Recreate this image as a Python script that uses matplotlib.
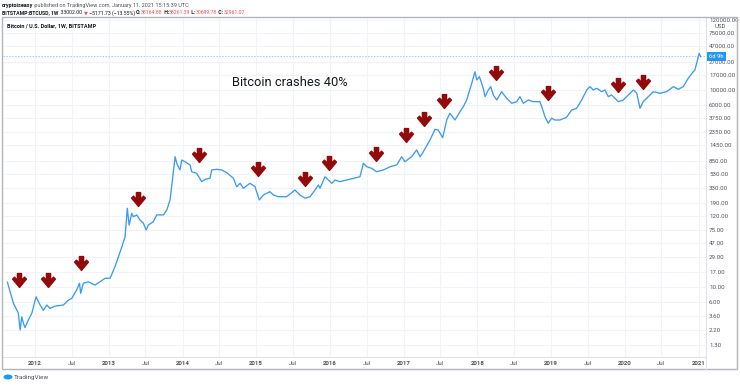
import pandas as pd
import matplotlib
matplotlib.use('Agg')
import matplotlib.pyplot as plt
from matplotlib.path import Path
from matplotlib.patches import Rectangle, Ellipse
from matplotlib.lines import Line2D
from matplotlib.ticker import NullLocator

plt.rcParams['font.family'] = ['Roboto', 'DejaVu Sans']

# weekly closes (BITSTAMP:BTCUSD, 1W)
dates = [
    '2011-08-17', '2011-09-16', '2011-09-24', '2011-10-10', '2011-10-19', '2011-10-27',
    '2011-11-04', '2011-11-12', '2011-11-28', '2011-12-16', '2012-01-06', '2012-01-17',
    '2012-01-26', '2012-02-11', '2012-02-28', '2012-03-15', '2012-04-09', '2012-05-20',
    '2012-06-14', '2012-07-01', '2012-07-25', '2012-08-08', '2012-08-14', '2012-08-27',
    '2012-09-21', '2012-10-24', '2012-11-18', '2012-12-13', '2013-01-07', '2013-01-31',
    '2013-03-06', '2013-03-22', '2013-04-02', '2013-04-11', '2013-04-24', '2013-05-02',
    '2013-05-19', '2013-06-04', '2013-06-21', '2013-07-04', '2013-07-15', '2013-08-09',
    '2013-08-26', '2013-09-28', '2013-10-15', '2013-10-31', '2013-11-25', '2013-12-03',
    '2013-12-19', '2013-12-28', '2014-01-13', '2014-02-07', '2014-02-15', '2014-03-12',
    '2014-04-06', '2014-04-22', '2014-05-17', '2014-05-25', '2014-06-19', '2014-07-14',
    '2014-08-08', '2014-09-10', '2014-09-26', '2014-10-13', '2014-10-29', '2014-12-01',
    '2014-12-26', '2015-01-16', '2015-02-05', '2015-03-10', '2015-03-27', '2015-04-21',
    '2015-06-01', '2015-07-12', '2015-08-06', '2015-08-31', '2015-09-25', '2015-10-19',
    '2015-11-05', '2015-11-13', '2015-12-08', '2016-01-10', '2016-01-26', '2016-02-20',
    '2016-03-24', '2016-04-26', '2016-05-29', '2016-06-15', '2016-07-02', '2016-07-26',
    '2016-08-20', '2016-09-22', '2016-10-25', '2016-11-27', '2016-12-22', '2017-01-07',
    '2017-02-09', '2017-03-06', '2017-03-23', '2017-04-08', '2017-05-11', '2017-06-05',
    '2017-06-21', '2017-07-13', '2017-08-02', '2017-08-18', '2017-09-12', '2017-10-07',
    '2017-10-23', '2017-11-09', '2017-12-04', '2017-12-20', '2017-12-29', '2018-01-11',
    '2018-01-30', '2018-02-08', '2018-02-24', '2018-03-08', '2018-03-21', '2018-04-07',
    '2018-05-01', '2018-05-26', '2018-06-20', '2018-07-15', '2018-07-31', '2018-08-17',
    '2018-09-10', '2018-10-05', '2018-11-07', '2018-11-16', '2018-12-02', '2018-12-18',
    '2019-01-04', '2019-01-20', '2019-02-14', '2019-03-19', '2019-04-13', '2019-05-08',
    '2019-06-02', '2019-06-27', '2019-07-13', '2019-07-29', '2019-08-15', '2019-09-09',
    '2019-09-25', '2019-10-12', '2019-10-28', '2019-11-14', '2019-11-30', '2019-12-25',
    '2020-01-19', '2020-02-13', '2020-03-01', '2020-03-17', '2020-04-02', '2020-04-27',
    '2020-05-22', '2020-06-24', '2020-07-27', '2020-08-29', '2020-09-23', '2020-10-17',
    '2020-11-11', '2020-12-06', '2020-12-14', '2021-01-04', '2021-01-11',
]
close = [
    11.8, 5.6, 5.0, 4.0, 2.2, 3.5,
    2.8, 2.4, 3.1, 4.0, 7.1, 6.0,
    5.3, 4.4, 5.3, 4.7, 5.1, 5.3,
    6.3, 6.7, 9.0, 11.4, 8.0, 11.4,
    12.0, 10.7, 12.0, 13.6, 13.6, 20.4,
    41, 58.5, 159, 88, 133, 118,
    126, 105, 94, 74, 88, 99,
    126, 126, 150, 213, 975, 773,
    611, 867, 818, 728, 575, 544,
    405, 440, 456, 611, 625, 611,
    555, 456, 339, 383, 321, 383,
    339, 213, 253, 285, 253, 239,
    239, 302, 253, 226, 239, 302,
    360, 321, 482, 383, 429, 405,
    429, 456, 482, 773, 685, 648,
    575, 611, 685, 728, 975, 818,
    975, 1233, 975, 1161, 1754, 2550,
    2490, 1900, 3540, 4480, 3540, 4740,
    5650, 7150, 12860, 19350, 14440, 16230,
    10790, 8040, 10170, 11430, 8530, 7150,
    9580, 7590, 6370, 6740, 8040, 6370,
    7150, 6740, 6740, 5650, 3980, 3155,
    3760, 3540, 3540, 3890, 5030, 5340,
    7150, 10170, 11430, 10170, 10790, 9580,
    10170, 8040, 8530, 7590, 6740, 7150,
    8530, 10170, 9050, 5340, 6740, 8040,
    9580, 9050, 9580, 11430, 10420, 11430,
    15340, 19350, 20530, 36900, 33002,
]

# "crash" markers drawn on the chart
arrow_dates = ['2011-10-14', '2012-03-07', '2012-08-16', '2013-05-24', '2014-03-23',
               '2015-01-11', '2015-08-31', '2015-12-28', '2016-08-17', '2017-01-11',
               '2017-04-11', '2017-07-18', '2018-04-03', '2018-12-18', '2019-11-30',
               '2020-04-02']
arrow_prices = [12.8, 12.8, 23, 218, 1017, 625, 440, 789, 1060, 2090, 3670, 6980,
                18670, 9240, 12100, 13320]

price_ticks = [1.3, 2.2, 3.6, 6, 10, 17, 29, 47, 75, 120, 190, 330, 530, 850, 1450,
               2350, 3750, 6000, 10000, 17000, 27000, 47000, 75000, 120000]
years = list(range(2012, 2022))
last_price = 33002.00
countdown = '6d 9h'

W, H = 740, 385
fig = plt.figure(figsize=(W / 100, H / 100), dpi=100)


def fx(px):
    return px / W


def fy(py):
    return 1 - py / H


ax = fig.add_axes([fx(3), fy(357), fx(706) - fx(3), fy(18) - fy(357)])
ax.set_yscale('log')
ax.set_ylim(0.853, 127700)
ax.set_xlim(pd.Timestamp('2011-07-26'), pd.Timestamp('2021-02-07'))

grid_c = '#f0f3fa'
xt, xl = [], []
for y in years:
    xt.append(pd.Timestamp(f'{y}-01-01'))
    xl.append(str(y))
    if y < 2021:
        xt.append(pd.Timestamp(f'{y}-07-01'))
        xl.append('Jul')
ax.set_xticks(xt)
ax.set_xticklabels(xl)
for lab in ax.get_xticklabels():
    if lab.get_text() != 'Jul':
        lab.set_fontweight('bold')

ax.set_yticks(price_ticks)
ax.set_yticklabels([f'{v:.2f}' for v in price_ticks])
ax.yaxis.set_minor_locator(NullLocator())
ax.xaxis.set_minor_locator(NullLocator())
ax.yaxis.tick_right()
ax.tick_params(axis='both', length=0, labelsize=4.4, labelcolor='#50535e')
ax.tick_params(axis='y', pad=2.2)
ax.tick_params(axis='x', pad=2.6)
ax.grid(True, color=grid_c, lw=0.8)
ax.set_axisbelow(True)
for s in ['left', 'top']:
    ax.spines[s].set_visible(False)
for s in ['right', 'bottom']:
    ax.spines[s].set_color('#e0e3eb')
    ax.spines[s].set_linewidth(0.8)

d = pd.to_datetime(dates)
ax.plot(d, close, color='#3a9bf2', lw=0.95, zorder=3)

# down-arrow marker
arrow = Path([(-0.15, 0.5), (0.15, 0.5), (0.15, 0.02), (0.36, 0.24), (0.5, 0.1),
              (0.0, -0.5), (-0.5, 0.1), (-0.36, 0.24), (-0.15, 0.02), (-0.15, 0.5)],
             [Path.MOVETO] + [Path.LINETO] * 8 + [Path.CLOSEPOLY])
ax.plot(pd.to_datetime(arrow_dates), arrow_prices, ls='none', marker=arrow,
        markersize=10, color='#920a0a', mec='#920a0a', zorder=4)

ax.text(0.408, 0.811, 'Bitcoin crashes 40%', transform=ax.transAxes,
        ha='center', va='center', fontsize=9.3, color='#131722')

# last price line and label
ax.axhline(last_price, color='#9fcbf5', lw=0.7, ls=(0, (1.5, 1.5)), zorder=2)
ax.annotate(countdown, xy=(1.0, last_price), xycoords=('axes fraction', 'data'),
            xytext=(2.5, 0), textcoords='offset points', ha='left', va='center',
            fontsize=4.2, color='white', zorder=10, annotation_clip=False,
            bbox=dict(boxstyle='square,pad=0.35', fc='#2196f3', ec='none'))

fig.text(fx(720), fy(26), 'USD', ha='center', va='center', fontsize=4.4,
         color='#50535e', bbox=dict(boxstyle='square,pad=0.2', fc='white', ec='none'))

# panel frame
fig.add_artist(Rectangle((fx(2), fy(369)), fx(737) - fx(2), fy(17) - fy(369),
                         transform=fig.transFigure, fill=False, ec='#b2b5be', lw=1.0))
fig.add_artist(Line2D([fx(706), fx(706)], [fy(357), fy(369)], transform=fig.transFigure,
                      color='#e0e3eb', lw=0.8))

fig.text(fx(7), fy(26), 'Bitcoin / U.S. Dollar, 1W, BITSTAMP', fontsize=4.0,
         fontweight='bold', color='#131722', va='center')

# header lines
r = fig.canvas.get_renderer()


def runs(x, y, parts, size=3.95):
    for s, color, weight in parts:
        t = fig.text(fx(x), fy(y), s, color=color, fontweight=weight, fontsize=size,
                     va='center', ha='left')
        x += t.get_window_extent(renderer=r).width


dark = '#131722'
red = '#ef5350'
runs(2, 5, [('cryptoiseasy', dark, 'bold'),
            (' published on TradingView.com, January 11, 2021 15:15:39 UTC', '#50535e', 'normal')])
runs(2, 13, [('BITSTAMP:BTCUSD, 1W', dark, 'bold'), ('  33002.00 ', dark, 'normal'),
             ('\u25bc', red, 'normal'), (' \u22125171.73 (\u221213.55%) ', dark, 'normal'),
             ('O:', dark, 'bold'), ('38164.88', red, 'normal'),
             (' H:', dark, 'bold'), ('38261.39', red, 'normal'),
             (' L:', dark, 'bold'), ('30699.78', red, 'normal'),
             (' C:', dark, 'bold'), ('32961.07', red, 'normal')], size=3.7)

# footer logo
fig.add_artist(Ellipse((fx(8), fy(377)), fx(9), 5 / H, transform=fig.transFigure,
                       fc='#2196f3', ec='none'))
fig.text(fx(14), fy(377), 'TradingView', fontsize=4.6, color='#50535e', va='center')

fig.savefig('out.png', dpi=100)
